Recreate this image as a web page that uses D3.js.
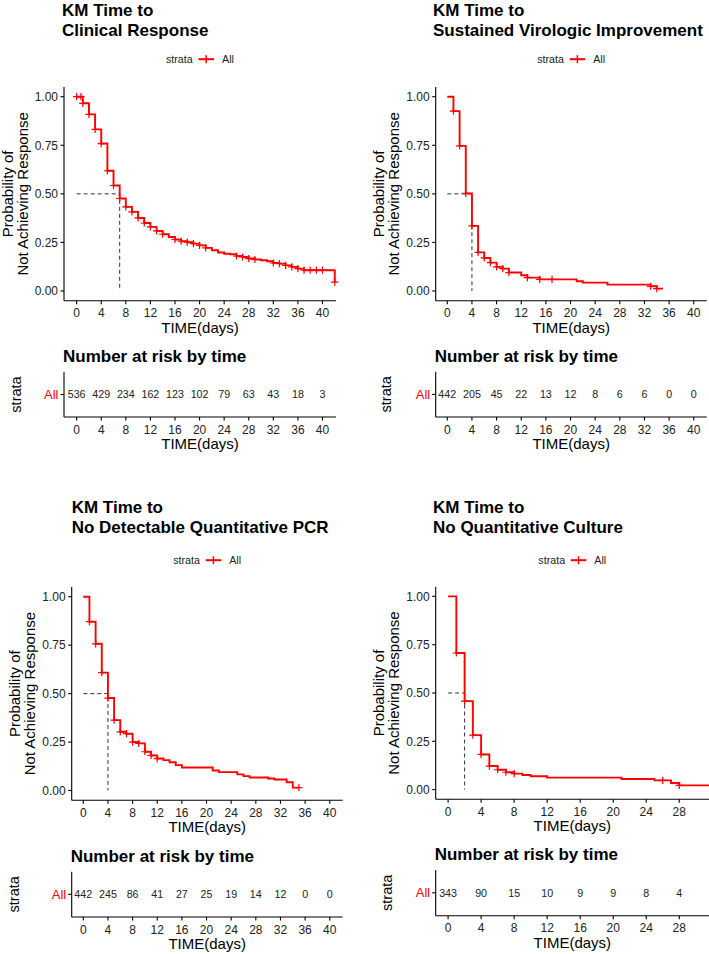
<!DOCTYPE html>
<html><head><meta charset="utf-8">
<script src="https://cdn.jsdelivr.net/npm/d3@7"></script>
<style>
body{margin:0;background:#fff}
svg{display:block}
text{font-family:"Liberation Sans",Arial,sans-serif}
</style>
</head><body>
<svg id="chart" width="709" height="954"></svg>
<script>
// ---------------- DATA ----------------
const yTicks = [0, 0.25, 0.5, 0.75, 1.0];
const xTicks40 = [0, 4, 8, 12, 16, 20, 24, 28, 32, 36, 40];
const xTicks28 = [0, 4, 8, 12, 16, 20, 24, 28];

// Panel 1: Clinical Response
const crTitle = ["KM Time to", "Clinical Response"];
const crTimes = [0,1,2,3,4,5,6,7,8,9,10,11,12,13,14,15,16,17,18,19,20,21,22,23,24,25,26,27,28,29,30,31,32,33,34,35,36,37,42];
const crSurv  = [1.0,0.966,0.909,0.832,0.759,0.619,0.543,0.476,0.433,0.407,0.376,0.350,0.330,0.309,0.292,0.278,0.265,0.256,0.251,0.244,0.235,0.222,0.210,0.198,0.192,0.189,0.180,0.175,0.167,0.162,0.158,0.153,0.144,0.141,0.132,0.124,0.115,0.107,0.046];
const crEnd = 42;
const crCensor = [0,0.7,1,2,3,4,5,6,7,8,9,10,11,12,13,14,16,17,18,19,20,21,26,27,28,29,32,33,34,35,36,37,38,39,40,42];
const crRisk = [536,429,234,162,123,102,79,63,43,18,3];

// Panel 2: Sustained Virologic Improvement
const sviTitle = ["KM Time to", "Sustained Virologic Improvement"];
const sviTimes = [0,1,2,3,4,5,6,7,8,9,10,12,13,15,21,22,26,33,34];
const sviSurv  = [1.0,0.926,0.747,0.502,0.335,0.199,0.170,0.146,0.124,0.115,0.095,0.081,0.069,0.060,0.050,0.043,0.033,0.024,0.012];
const sviEnd = 35;
const sviCensor = [1,2,3,4,5,6,7,8,9,10,13,15,17,33,34];
const sviRisk = [442,205,45,22,13,12,8,6,6,0,0];

// Panel 3: No Detectable Quantitative PCR
const pcrTitle = ["KM Time to", "No Detectable Quantitative PCR"];
const pcrTimes = [0,1,2,3,4,5,6,7,8,9,10,11,12,13,14,15,16,21,22,25,26,27,30,31,33,34];
const pcrSurv  = [1.0,0.871,0.757,0.608,0.477,0.363,0.303,0.293,0.250,0.243,0.200,0.181,0.165,0.157,0.146,0.131,0.119,0.103,0.095,0.083,0.074,0.067,0.062,0.057,0.043,0.015];
const pcrEnd = 35;
const pcrCensor = [1,2,3,4,5,6,7,8,9,10,11,12,35];
const pcrRisk = [442,245,86,41,27,25,19,14,12,0,0];

// Panel 4: No Quantitative Culture
const qcTitle = ["KM Time to", "No Quantitative Culture"];
const qcTimes = [0,1,2,3,4,5,6,7,8,9,10,12,21,25,27,28];
const qcSurv  = [1.0,0.707,0.458,0.282,0.182,0.122,0.103,0.090,0.083,0.076,0.069,0.062,0.055,0.048,0.034,0.022];
const qcEnd = 31.6;
const qcCensor = [1,2,3,4,5,6,7,8,26,28];
const qcRisk = [343,90,15,10,9,9,8,4];

// ---------------- LAYOUT ----------------
const panels = [
  {title:crTitle, times:crTimes, surv:crSurv, end:crEnd, censor:crCensor, risk:crRisk, xt:xTicks40,
   x0:64, x1:336, dom:[-2.06,42.2], top:87, axisY:300.7, titleX:62, titleY:16, legY:63,
   yTitleX:12.5, tTop:372, tBot:417, strataX:21},
  {title:sviTitle, times:sviTimes, surv:sviSurv, end:sviEnd, censor:sviCensor, risk:sviRisk, xt:xTicks40,
   x0:435.7, x1:706.7, dom:[-1.88,42.1], top:87, axisY:300.7, titleX:433, titleY:16, legY:63,
   yTitleX:384, tTop:371.7, tBot:417, strataX:391},
  {title:pcrTitle, times:pcrTimes, surv:pcrSurv, end:pcrEnd, censor:pcrCensor, risk:pcrRisk, xt:xTicks40,
   x0:71.7, x1:342.7, dom:[-1.88,42.1], top:587, axisY:800.2, titleX:71.7, titleY:512.8, legY:564,
   yTitleX:19.5, tTop:871.7, tBot:917, strataX:19.3},
  {title:qcTitle, times:qcTimes, surv:qcSurv, end:qcEnd, censor:qcCensor, risk:qcRisk, xt:xTicks28,
   x0:435.7, x1:709, dom:[-1.5,31.6], top:586.7, axisY:799.3, titleX:433, titleY:512.8, legY:564,
   yTitleX:384, tTop:870, tBot:915.7, strataX:392}
];

const RED = "#ff0000";
const TXT = "#222";
const svg = d3.select("#chart");

function survAt(times, surv, t){
  let s = surv[0];
  for (let i = 0; i < times.length; i++) { if (times[i] <= t + 1e-9) s = surv[i]; }
  return s;
}

panels.forEach(p => {
  const g = svg.append("g");
  const x = d3.scaleLinear().domain(p.dom).range([p.x0, p.x1]);
  const y = d3.scaleLinear().domain([-0.05, 1.05]).range([p.axisY, p.top]);

  // Title
  p.title.forEach((line, i) => {
    g.append("text").attr("x", p.titleX).attr("y", p.titleY + i * 19.8)
      .attr("font-size", 17).attr("font-weight", "bold").attr("fill", "#000").text(line);
  });

  // Legend
  const c = (p.x0 + p.x1) / 2;
  g.append("text").attr("x", c - 34).attr("y", p.legY).attr("font-size", 10.7).attr("fill", TXT).text("strata");
  g.append("line").attr("x1", c - 1.5).attr("x2", c + 14).attr("y1", p.legY - 3.8).attr("y2", p.legY - 3.8)
    .attr("stroke", RED).attr("stroke-width", 2);
  g.append("line").attr("x1", c + 6.2).attr("x2", c + 6.2).attr("y1", p.legY - 7.8).attr("y2", p.legY + 0.2)
    .attr("stroke", RED).attr("stroke-width", 1.5);
  g.append("text").attr("x", c + 22).attr("y", p.legY).attr("font-size", 10.7).attr("fill", TXT).text("All");

  // Axes (main plot)
  const ax = g.append("g").attr("stroke", "#000").attr("stroke-width", 1.1);
  ax.append("line").attr("x1", p.x0).attr("x2", p.x0).attr("y1", p.top).attr("y2", p.axisY);
  ax.append("line").attr("x1", p.x0).attr("x2", p.x1).attr("y1", p.axisY).attr("y2", p.axisY);
  yTicks.forEach(v => {
    ax.append("line").attr("x1", p.x0 - 3.5).attr("x2", p.x0).attr("y1", y(v)).attr("y2", y(v));
    g.append("text").attr("x", p.x0 - 6).attr("y", y(v) + 4.3).attr("text-anchor", "end")
      .attr("font-size", 12).attr("fill", TXT).text(d3.format(".2f")(v));
  });
  p.xt.forEach(v => {
    ax.append("line").attr("x1", x(v)).attr("x2", x(v)).attr("y1", p.axisY).attr("y2", p.axisY + 3.5);
    g.append("text").attr("x", x(v)).attr("y", p.axisY + 16.6).attr("text-anchor", "middle")
      .attr("font-size", 12).attr("fill", TXT).text(v);
  });
  g.append("text").attr("x", c).attr("y", p.axisY + 32).attr("text-anchor", "middle")
    .attr("font-size", 15).attr("fill", "#000").text("TIME(days)");
  const yc = (p.top + p.axisY) / 2;
  ["Probability of", "Not Achieving Response"].forEach((line, i) => {
    g.append("text").attr("transform", `translate(${p.yTitleX + i * 15},${yc}) rotate(-90)`)
      .attr("text-anchor", "middle").attr("font-size", 15).attr("fill", "#000").text(line);
  });

  // Median lines
  let median = null;
  for (let i = 0; i < p.times.length; i++) { if (p.surv[i] <= 0.5) { median = p.times[i]; break; } }
  if (median !== null) {
    g.append("path").attr("d", `M${x(0)},${y(0.5)}H${x(median)}V${y(0)}`)
      .attr("fill", "none").attr("stroke", "#333").attr("stroke-width", 1).attr("stroke-dasharray", "4,3");
  }

  // KM step curve
  const pts = p.times.map((t, i) => [t, p.surv[i]]);
  pts.push([p.end, p.surv[p.surv.length - 1]]);
  const line = d3.line().x(d => x(d[0])).y(d => y(d[1])).curve(d3.curveStepAfter);
  g.append("path").attr("d", line(pts)).attr("fill", "none").attr("stroke", RED)
    .attr("stroke-width", 1.9).attr("stroke-linejoin", "miter");

  // Censor marks
  p.censor.forEach(t => {
    const cx = x(t), cy = y(survAt(p.times, p.surv, t));
    g.append("path").attr("d", `M${cx - 3.6},${cy}H${cx + 3.6}M${cx},${cy - 3.6}V${cy + 3.6}`)
      .attr("stroke", RED).attr("stroke-width", 1.2).attr("fill", "none");
  });

  // Risk table
  const rowY = (p.tTop + p.tBot) / 2;
  g.append("text").attr("x", p.x0 - 1).attr("y", p.tTop - 10).attr("font-size", 17)
    .attr("font-weight", "bold").attr("fill", "#000").text("Number at risk by time");
  const tx = g.append("g").attr("stroke", "#000").attr("stroke-width", 1.1);
  tx.append("line").attr("x1", p.x0).attr("x2", p.x0).attr("y1", p.tTop).attr("y2", p.tBot);
  tx.append("line").attr("x1", p.x0).attr("x2", p.x1).attr("y1", p.tBot).attr("y2", p.tBot);
  tx.append("line").attr("x1", p.x0 - 3.5).attr("x2", p.x0).attr("y1", rowY).attr("y2", rowY);
  g.append("text").attr("x", p.x0 - 5.5).attr("y", rowY + 4.6).attr("text-anchor", "end")
    .attr("font-size", 13).attr("fill", RED).text("All");
  g.append("text").attr("transform", `translate(${p.strataX},${rowY}) rotate(-90)`)
    .attr("text-anchor", "middle").attr("font-size", 14.5).attr("fill", "#000").text("strata");
  p.xt.forEach((v, i) => {
    tx.append("line").attr("x1", x(v)).attr("x2", x(v)).attr("y1", p.tBot).attr("y2", p.tBot + 3.5);
    g.append("text").attr("x", x(v)).attr("y", p.tBot + 16.6).attr("text-anchor", "middle")
      .attr("font-size", 12).attr("fill", TXT).text(v);
    g.append("text").attr("x", x(v)).attr("y", rowY + 3.8).attr("text-anchor", "middle")
      .attr("font-size", 10.7).attr("fill", TXT).text(p.risk[i]);
  });
  g.append("text").attr("x", c).attr("y", p.tBot + 32).attr("text-anchor", "middle")
    .attr("font-size", 15).attr("fill", "#000").text("TIME(days)");
});
</script>
</body></html>
